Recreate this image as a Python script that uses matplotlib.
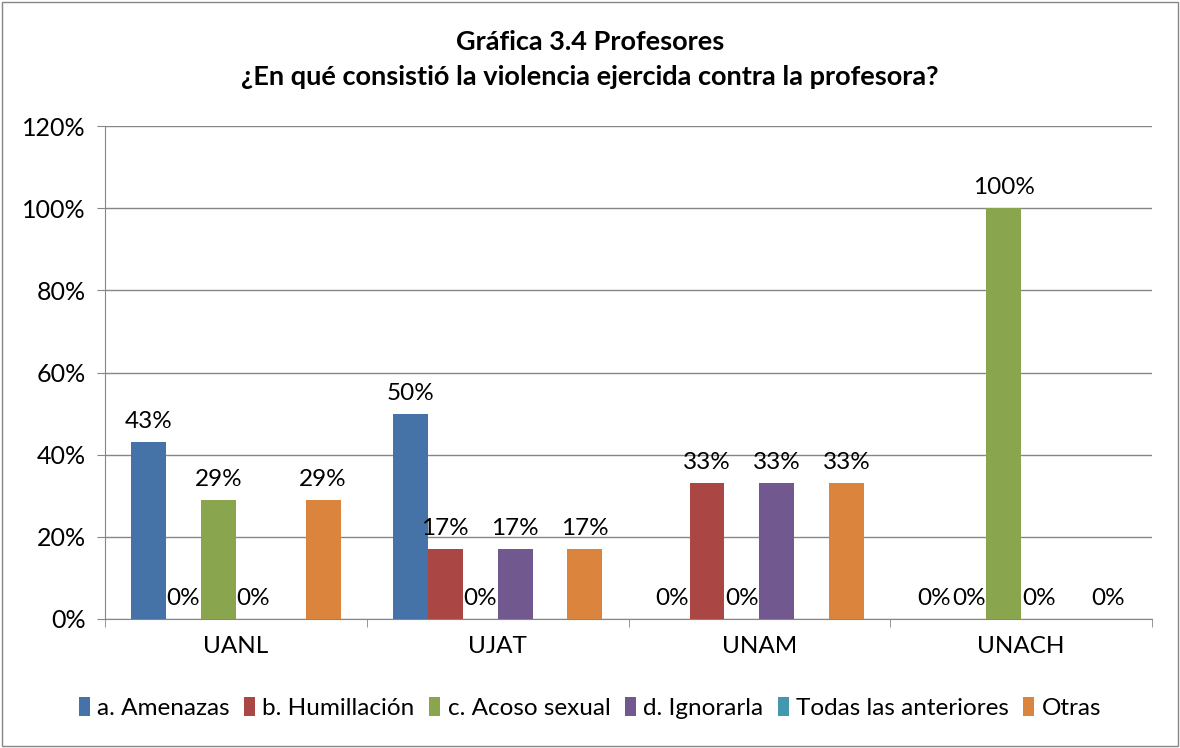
import matplotlib.pyplot as plt
import numpy as np
from matplotlib.patches import Rectangle

plt.rcParams['font.family'] = ['Lato', 'DejaVu Sans']

categories = ["UANL", "UJAT", "UNAM", "UNACH"]
series = ["a. Amenazas", "b. Humillación", "c. Acoso sexual",
          "d. Ignorarla", "Todas las anteriores", "Otras"]
amenazas = [43, 50, 0, 0]
humillacion = [0, 17, 33, 0]
acoso = [29, 0, 0, 100]
ignorarla = [0, 17, 33, 0]
todas = [np.nan, np.nan, np.nan, np.nan]
otras = [29, 17, 33, 0]
values = [amenazas, humillacion, acoso, ignorarla, todas, otras]
colors = ["#4572A7", "#AA4643", "#89A54E", "#71588F", "#4198AF", "#DB843D"]

fig = plt.figure(figsize=(11.8, 7.48), dpi=100)
ax = fig.add_axes([105 / 1180, 129 / 748, 1047 / 1180, 493 / 748])

x = np.arange(len(categories))
n = len(series)
slot = 1.0 / (n + 1.5)
for i, (name, vals, c) in enumerate(zip(series, values, colors)):
    pos = x - 0.5 + 0.75 * slot + slot * (i + 0.5)
    ax.bar(pos, vals, width=slot, color=c, label=name, zorder=3)
    for p, v in zip(pos, vals):
        if np.isnan(v):
            continue
        ax.annotate(f"{v:.0f}%", (p, v), xytext=(0, 10), textcoords="offset pixels",
                    ha="center", va="bottom", fontsize=17.5)

ax.set_xlim(-0.5, len(categories) - 0.5)
ax.set_ylim(0, 120)
ax.set_yticks(range(0, 121, 20))
ax.set_yticklabels([f"{t}%" for t in range(0, 121, 20)], fontsize=18)
ax.set_xticks(x)
ax.set_xticklabels(categories, fontsize=17.5)
ax.set_xticks(np.arange(-0.5, len(categories)), minor=True)
ax.tick_params(axis="x", which="major", length=0, pad=12)
ax.tick_params(axis="x", which="minor", length=6, color="#868686")
ax.tick_params(axis="y", length=6, color="#868686", pad=8)
ax.grid(axis="y", color="#868686", linewidth=1, zorder=0)
for s in ["top", "right"]:
    ax.spines[s].set_visible(False)
for s in ["left", "bottom"]:
    ax.spines[s].set_color("#868686")

fig.text(0.5, 1 - 42 / 748, "Gráfica 3.4 Profesores", ha="center", va="center",
         fontsize=19.5, fontweight="bold")
fig.text(0.5, 1 - 77 / 748, "¿En qué consistió la violencia ejercida contra la profesora?",
         ha="center", va="center", fontsize=19.5, fontweight="bold")

fig.legend(loc="center", bbox_to_anchor=(0.5, 1 - 708 / 748), ncol=6, frameon=False,
           fontsize=17.5, handlelength=0.45, handleheight=0.8, handletextpad=0.3,
           columnspacing=0.6)

fig.patches.append(Rectangle((0.002, 0.003), 0.996, 0.994, transform=fig.transFigure,
                             fill=False, edgecolor="#868686", linewidth=1))

fig.savefig("out.png", dpi=100)
